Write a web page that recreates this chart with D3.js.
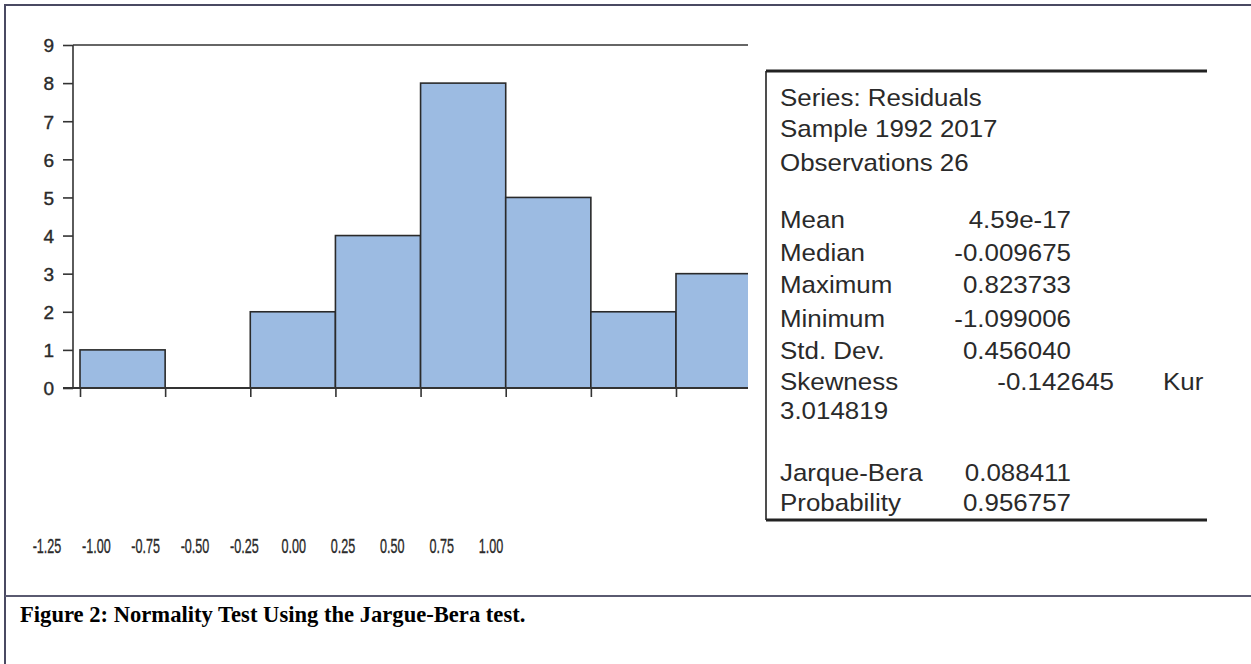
<!DOCTYPE html>
<html>
<head>
<meta charset="utf-8">
<script src="https://cdn.jsdelivr.net/npm/d3@7"></script>
<style>
  html, body { margin: 0; padding: 0; background: #fff; }
  svg { display: block; }
</style>
</head>
<body>
<svg id="chart" width="1251" height="664"></svg>
<script>
// ---- data ----
const binStarts = [-1.25, -1.00, -0.75, -0.50, -0.25, 0.00, 0.25, 0.50];
const counts = [1, 0, 2, 4, 8, 5, 2, 3];
const binWidth = 0.25;
const yTickValues = [0, 1, 2, 3, 4, 5, 6, 7, 8, 9];
const xTickLabels = ["-1.25", "-1.00", "-0.75", "-0.50", "-0.25", "0.00", "0.25", "0.50", "0.75", "1.00"];
const headerLines = ["Series: Residuals", "Sample 1992 2017", "Observations 26"];
const statNames = ["Mean", "Median", "Maximum", "Minimum", "Std. Dev."];
const statValues = ["4.59e-17", "-0.009675", "0.823733", "-1.099006", "0.456040"];
const skewName = "Skewness", skewValue = "-0.142645", kurtName = "Kur", kurtValue = "3.014819";
const testNames = ["Jarque-Bera", "Probability"];
const testValues = ["0.088411", "0.956757"];
const caption = "Figure 2: Normality Test Using the Jargue-Bera test.";

// ---- drawing ----
const svg = d3.select("#chart");
const sans = "'Liberation Sans', Arial, sans-serif";
const axisColor = "#333";

// outer frame
svg.append("rect").attr("x", 5).attr("y", 5).attr("width", 1260).attr("height", 700)
  .attr("fill", "none").attr("stroke", "#4a4a62").attr("stroke-width", 2);
svg.append("line").attr("x1", 5).attr("x2", 1251).attr("y1", 596).attr("y2", 596)
  .attr("stroke", "#5a5a70").attr("stroke-width", 2);

svg.append("text").attr("x", 20).attr("y", 622)
  .attr("font-family", "'Liberation Serif', 'Times New Roman', serif")
  .attr("font-weight", "bold").attr("font-size", 22.6).attr("fill", "#000")
  .text(caption);

// scales
const x = d3.scaleLinear().domain([-1.25, 0.5]).range([80, 676]);
const y = d3.scaleLinear().domain([0, 9]).range([388, 45]);
const plotRight = 748;

svg.append("defs").append("clipPath").attr("id", "plotClip")
  .append("rect").attr("x", 0).attr("y", 0).attr("width", plotRight).attr("height", 664);

const plot = svg.append("g").attr("clip-path", "url(#plotClip)");

// top frame line
plot.append("line").attr("x1", 73).attr("x2", plotRight).attr("y1", y(9)).attr("y2", y(9))
  .attr("stroke", axisColor).attr("stroke-width", 1.6);

// bars
plot.selectAll("rect.bar")
  .data(binStarts.map((b, i) => ({ b, c: counts[i] })).filter(d => d.c > 0))
  .join("rect").attr("class", "bar")
  .attr("x", d => x(d.b)).attr("width", d => x(d.b + binWidth) - x(d.b))
  .attr("y", d => y(d.c)).attr("height", d => y(0) - y(d.c))
  .attr("fill", "#9cbbe2").attr("stroke", "#2a2a2a").attr("stroke-width", 1.6);

// x baseline + ticks
plot.append("line").attr("x1", 63).attr("x2", plotRight).attr("y1", y(0)).attr("y2", y(0))
  .attr("stroke", axisColor).attr("stroke-width", 2.2);
const xAxis = d3.axisBottom(x).tickValues(binStarts).tickSize(9).tickFormat("");
plot.append("g").attr("transform", `translate(0,${y(0)})`).call(xAxis)
  .call(g => g.select(".domain").remove())
  .call(g => g.selectAll("line").attr("stroke", axisColor).attr("stroke-width", 1.6));

// y axis
const yAxis = d3.axisLeft(y).tickValues(yTickValues).tickSize(10).tickPadding(9).tickFormat(d3.format("d"));
svg.append("g").attr("transform", "translate(73,0)").call(yAxis)
  .call(g => g.select(".domain").attr("stroke", axisColor).attr("stroke-width", 1.6).attr("d", `M0,${y(9)}V${y(0)}`))
  .call(g => g.selectAll("line").attr("stroke", axisColor).attr("stroke-width", 1.6))
  .call(g => g.selectAll("text").attr("font-family", sans).attr("font-size", 19)
    .attr("fill", "#2a2a2a").attr("stroke", "#2a2a2a").attr("stroke-width", 0.4).attr("dy", "0.36em"));

// x tick labels (separate, condensed axis)
const xl = d3.scaleLinear().domain([-1.25, 1.0]).range([47, 491]);
const xsc = 0.6;
svg.append("g").selectAll("text").data(xTickLabels).join("text")
  .attr("transform", d => `translate(${xl(+d)},553) scale(${xsc},1)`)
  .attr("text-anchor", "middle")
  .attr("font-family", sans).attr("font-size", 21).attr("fill", "#2a2a2a")
  .attr("stroke", "#2a2a2a").attr("stroke-width", 0.35)
  .text(d => d);

// stats box
const bx = 766, bRight = 1207, bTop = 71, bBottom = 520;
svg.append("defs").append("clipPath").attr("id", "boxClip")
  .append("rect").attr("x", bx).attr("y", bTop).attr("width", bRight - bx).attr("height", 349);
svg.append("rect").attr("x", bx).attr("y", bTop).attr("width", bRight - bx + 44).attr("height", bBottom - bTop)
  .attr("fill", "#fff");
svg.append("line").attr("x1", bx).attr("x2", bRight).attr("y1", bTop).attr("y2", bTop)
  .attr("stroke", "#222").attr("stroke-width", 3);
svg.append("line").attr("x1", bx).attr("x2", bRight).attr("y1", bBottom).attr("y2", bBottom)
  .attr("stroke", "#222").attr("stroke-width", 3);
svg.append("line").attr("x1", bx).attr("x2", bx).attr("y1", bTop).attr("y2", bBottom)
  .attr("stroke", "#222").attr("stroke-width", 1.6);

const sx = 1.08;
function stText(g, t, xx, yy, anchor) {
  g.append("text").attr("transform", `translate(${xx},${yy}) scale(${sx},1)`)
    .attr("text-anchor", anchor || "start").text(t);
}
const st = svg.append("g").attr("clip-path", "url(#boxClip)")
  .attr("font-family", sans).attr("font-size", 24).attr("fill", "#2a2a2a");
const tx = 780, valRight = 1071;
const headerY = [106, 137, 171];
headerLines.forEach((t, i) => stText(st, t, tx, headerY[i]));
const statY = [228, 261, 293, 327, 359];
statNames.forEach((t, i) => {
  stText(st, t, tx, statY[i]);
  stText(st, statValues[i], valRight, statY[i], "end");
});
stText(st, skewName, tx, 390);
stText(st, skewValue, 1114, 390, "end");
const st0 = svg.append("g").attr("font-family", sans).attr("font-size", 24).attr("fill", "#2a2a2a");
stText(st0, kurtName, 1163, 390);
stText(st, kurtValue, tx, 419);
const testY = [481, 511];
const st2 = svg.append("g").attr("font-family", sans).attr("font-size", 24).attr("fill", "#2a2a2a");
testNames.forEach((t, i) => {
  stText(st2, t, tx, testY[i]);
  stText(st2, testValues[i], valRight, testY[i], "end");
});
</script>
</body>
</html>
